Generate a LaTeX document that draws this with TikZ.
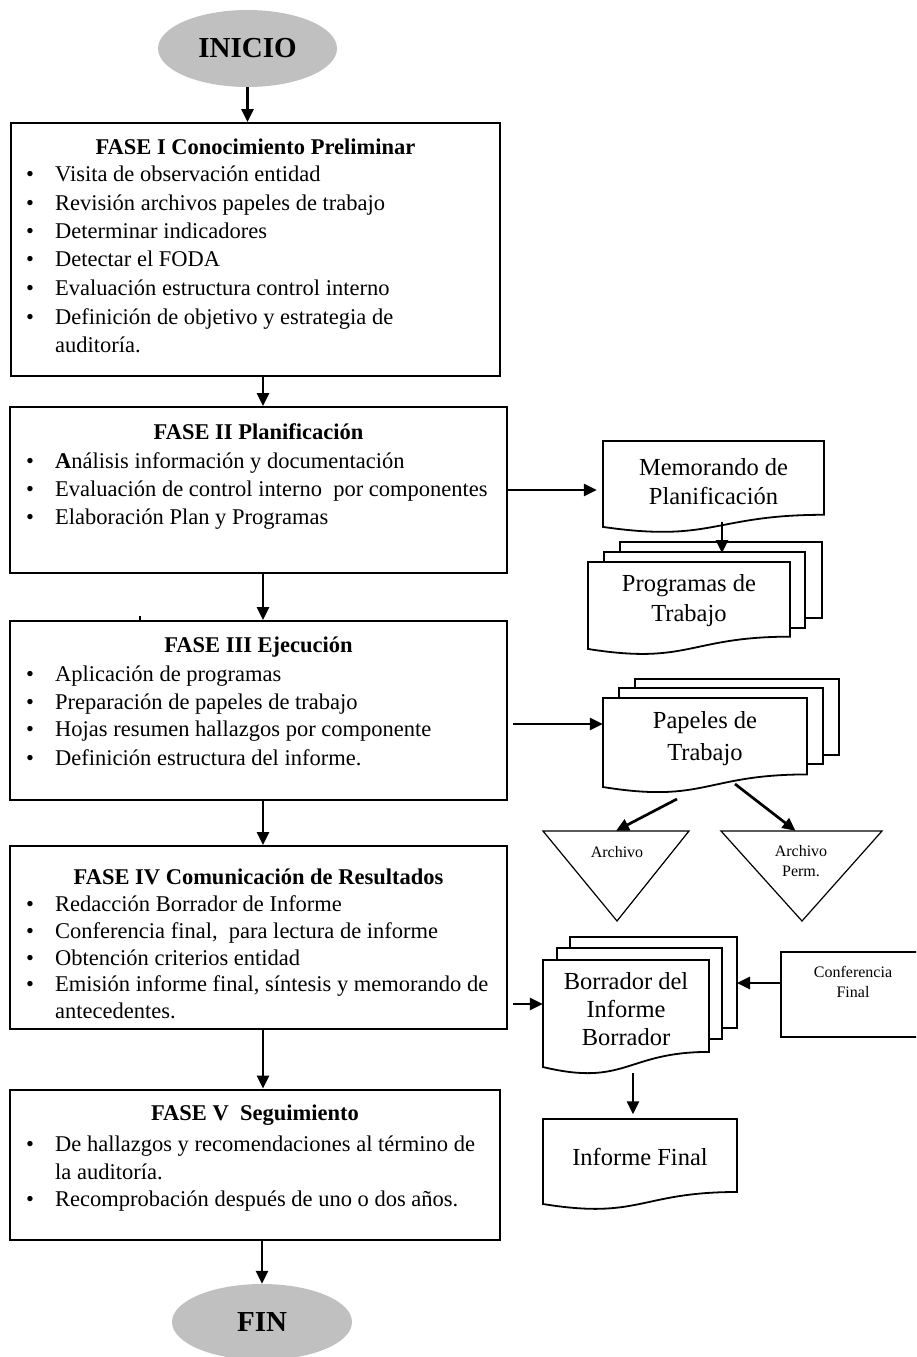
\documentclass[tikz,border=0pt]{standalone}
\usepackage{fontspec}
\setmainfont{Liberation Serif}
\usetikzlibrary{arrows.meta,shapes.geometric,calc}
\definecolor{termgray}{RGB}{192,192,192}
\tikzset{
 phase/.style={draw, line width=2pt, rectangle, inner sep=0pt},
 term/.style={ellipse, fill=termgray, inner sep=0pt, font=\fontsize{29}{34}\selectfont\bfseries},
 arr/.style={line width=2.7pt, -{Triangle[length=13pt,width=12pt]}},
 ttl/.style={inner sep=0pt, anchor=base, font=\fontsize{22.5}{28}\selectfont\bfseries},
 btxt/.style={inner sep=0pt, anchor=mid west, font=\fontsize{22.5}{28}\selectfont},
 bulm/.style={inner sep=0pt, anchor=mid, font=\fontsize{22.5}{28}\selectfont},
 docline/.style={draw, line width=1.8pt, fill=white},
 doctxt/.style={inner sep=0pt, align=center},
 tri/.style={draw, line width=1.2pt},
 small/.style={inner sep=0pt, align=center, font=\fontsize{16}{20}\selectfont},
}
\newcommand\bitm[3]{\node[bulm] (#1b) at (30,#2) {•}; \node[btxt] (#1) at (55,#2) {#3};}
\newcommand\bcnt[3]{\node[btxt] (#1) at (55,#2) {#3};}
\newcommand\docshape[8]{%
 \draw[docline] (#2,#3) -- (#4,#3) -- (#4,{#3+0.802*#5}) .. controls ({(#2+#4)/2},{#3+0.802*#5}) and ({(#2+#4)/2},{#3+1.1075*#5}) .. (#2,{#3+0.934*#5}) -- cycle;
 \node[doctxt, minimum width={#4-#2}, minimum height={0.868*#5}, font=\fontsize{24.5}{#7}\selectfont] (#1) at ({(#2+#4)/2},#6) {#8};}
\begin{document}
\begin{tikzpicture}[x=1pt,y=-1pt]
\path[use as bounding box] (0,0) rectangle (916,1357);
\clip (0,0) rectangle (916,1357);

% terminals
\node[term, minimum width=179pt, minimum height=77pt] (inicio) at (247.5,48.5) {INICIO};
\node[term, minimum width=180pt, minimum height=76pt] (fin) at (262,1322) {FIN};

% phases
\node[phase, minimum width=489pt, minimum height=253pt] (f1) at (255.5,249.5) {};
\node[phase, minimum width=497pt, minimum height=166pt] (f2) at (258.5,490) {};
\node[phase, minimum width=497pt, minimum height=179pt] (f3) at (258.5,710.5) {};
\node[phase, minimum width=497pt, minimum height=183pt] (f4) at (258.5,937.5) {};
\node[phase, minimum width=490pt, minimum height=150pt] (f5) at (255,1164.5) {};

\node[ttl] (f1t) at (255.5,154) {FASE I Conocimiento Preliminar};
\bitm{f1a}{179}{Visita de observación entidad}
\bitm{f1c}{208}{Revisión archivos papeles de trabajo}
\bitm{f1d}{236}{Determinar indicadores}
\bitm{f1e}{264}{Detectar el FODA}
\bitm{f1f}{293}{Evaluación estructura control interno}
\bitm{f1g}{322}{Definición de objetivo y estrategia de}
\bcnt{f1h}{350}{auditoría.}

\node[ttl] (f2t) at (258.5,439) {FASE II Planificación};
\bitm{f2a}{466}{\textbf{A}nálisis información y documentación}
\bitm{f2c}{494}{Evaluación de control interno\ \ por componentes}
\bitm{f2d}{522}{Elaboración Plan y Programas}

\node[ttl] (f3t) at (258.5,652) {FASE III Ejecución};
\bitm{f3a}{679}{Aplicación de programas}
\bitm{f3c}{707}{Preparación de papeles de trabajo}
\bitm{f3d}{734}{Hojas resumen hallazgos por componente}
\bitm{f3e}{763}{Definición estructura del informe.}

\node[ttl] (f4t) at (258.5,884) {FASE IV Comunicación de Resultados};
\bitm{f4a}{909}{Redacción Borrador de Informe}
\bitm{f4c}{936}{Conferencia final,\ \ para lectura de informe}
\bitm{f4d}{963}{Obtención criterios entidad}
\bitm{f4e}{989}{Emisión informe final, síntesis y memorando de}
\bcnt{f4f}{1016}{antecedentes.}

\node[ttl] (f5t) at (255,1120) {FASE V\ \ Seguimiento};
\bitm{f5a}{1149}{De hallazgos y recomendaciones al término de}
\bcnt{f5c}{1177}{la auditoría.}
\bitm{f5d}{1204}{Recomprobación después de uno o dos años.}

% stray tick
\draw[line width=1.5pt] (140,616) -- (140,621);

% right column documents
\docshape{memo}{603}{441}{824}{92}{481.5}{29}{Memorando de\\Planificación}

\draw[docline] (620,542) rectangle (822,618);
\draw[docline] (604,552) rectangle (805,628);
\docshape{prog}{588}{562}{790}{93.1}{601}{30}{Programas de\\Trabajo}

\draw[docline] (635,679) rectangle (839,755);
\draw[docline] (619,688) rectangle (823,764);
\docshape{pap}{603}{698}{807}{95.3}{739}{32}{Papeles de\\Trabajo}

\draw[tri] (543,831) -- (689,831) -- (617,921) -- cycle;
\node[inner sep=0pt, minimum width=146pt, minimum height=90pt] (arch1) at (616,876) {};
\node[small] (arch1t) at (617,852) {Archivo};
\draw[tri] (721,831) -- (882,831) -- (802,921) -- cycle;
\node[inner sep=0pt, minimum width=161pt, minimum height=90pt] (arch2) at (801.5,876) {};
\node[small] (arch2t) at (801,861) {Archivo\\Perm.};

\draw[docline] (570,937) rectangle (737,1028);
\draw[docline] (557,948) rectangle (722,1039);
\docshape{bor}{543}{960}{709}{114.6}{1009}{28}{Borrador del\\Informe\\Borrador}

\node[draw, line width=2pt, minimum width=144pt, minimum height=85pt, inner sep=0pt] (conf) at (853,994.5) {};
\node[small] (conft) at (853,982) {Conferencia\\Final};

\docshape{inf}{543}{1119}{737}{91}{1157}{29}{Informe Final}

% connectors
\coordinate (cx) at (263,0);
\draw[arr] (inicio.south) -- (inicio.south |- f1.north);
\draw[arr] (f1.south -| cx) -- (f2.north -| cx);
\draw[arr] (f2.south -| cx) -- (f3.north -| cx);
\draw[arr] (f3.south -| cx) -- (f4.north -| cx);
\draw[arr] (f4.south -| cx) -- (f5.north -| cx);
\draw[arr] (f5.south -| fin.north) -- (fin.north);

\draw[arr, shorten >=6pt] (f2.east) -- (f2.east -| memo.west);
\coordinate (a7) at (722,553);
\draw[arr] (memo.south -| a7) -- (a7);
\coordinate (a3s) at (513,724);
\draw[arr] (a3s) -- (a3s -| pap.west);
\coordinate (p1) at (677,799);
\draw[arr] (p1) -- (arch1.north);
\coordinate (p2) at (735,784);
\draw[arr] (p2) -- ([xshift=-6pt]arch2.north);
\coordinate (a4s) at (513,1004);
\draw[arr] (a4s) -- (a4s -| bor.west);
\coordinate (a5e) at (737,983);
\draw[arr] (conf.west |- a5e) -- (a5e);
\coordinate (a6) at (633,1073);
\draw[arr, shorten >=3pt] (a6) -- (a6 |- inf.north);
\end{tikzpicture}
\end{document}
